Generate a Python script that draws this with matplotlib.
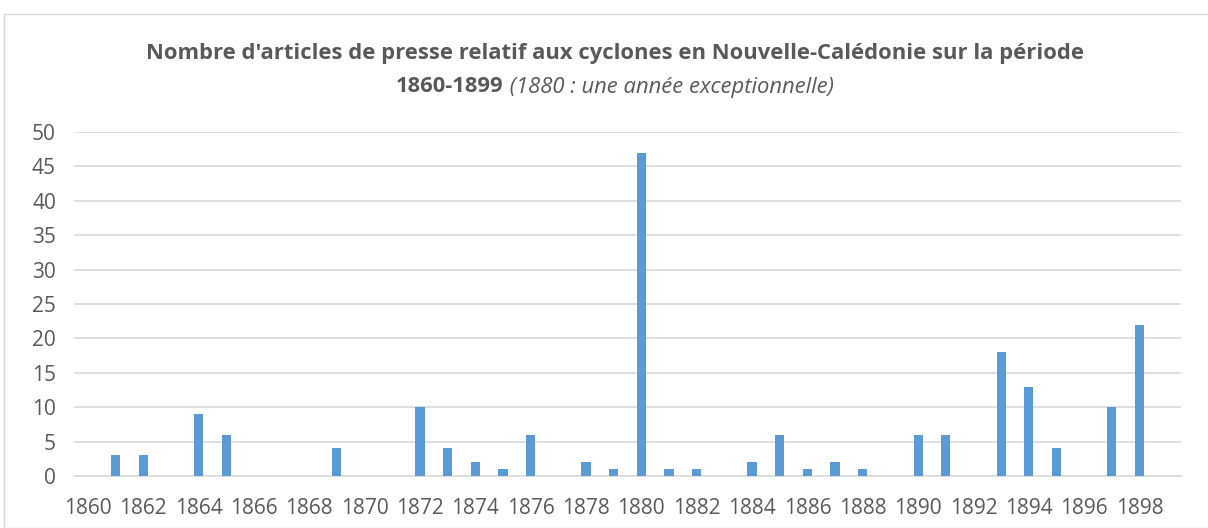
import matplotlib
matplotlib.use("Agg")
import matplotlib.pyplot as plt
from matplotlib.patches import Rectangle

# data
years = list(range(1860, 1900))
counts = [0, 3, 3, 0, 9, 6, 0, 0, 0, 4,
          0, 0, 10, 4, 2, 1, 6, 0, 2, 1,
          47, 1, 1, 0, 2, 6, 1, 2, 1, 0,
          6, 6, 0, 18, 13, 4, 0, 10, 22, 0]
yticks = [0, 5, 10, 15, 20, 25, 30, 35, 40, 45, 50]
title1 = "Nombre d'articles de presse relatif aux cyclones en Nouvelle-Calédonie sur la période"
title2_bold = "1860-1899"
title2_ital = " (1880 : une année exceptionnelle)"

W, H = 1208, 528
GREY = "#595959"
BAR = "#5B9BD5"
GRID = "#D9D9D9"
plt.rcParams["font.family"] = ["Open Sans", "DejaVu Sans"]

fig = plt.figure(figsize=(W / 100, H / 100), dpi=100)
fig.patches.append(Rectangle((4 / W, 0), 1.2, 1 - 14 / H, transform=fig.transFigure,
                             fill=False, edgecolor="#D9D9D9", linewidth=1))

ax = fig.add_axes([74 / W, 52 / H, (1181 - 74) / W, (476 - 132) / H])
x = list(range(len(years)))
ax.bar(x, counts, width=0.33, color=BAR, zorder=3)
ax.set_xlim(-0.5, len(years) - 0.5)
ax.set_ylim(0, 50)
ax.set_yticks(yticks)
ax.set_xticks(x[::2])
ax.set_xticklabels([str(y) for y in years[::2]])
ax.tick_params(axis="both", length=0, labelsize=15, labelcolor=GREY)
ax.tick_params(axis="x", pad=16)
ax.tick_params(axis="y", pad=13)
ax.grid(axis="y", color=GRID, linewidth=1.2, zorder=0)
for s in ["top", "right", "left"]:
    ax.spines[s].set_visible(False)
ax.spines["bottom"].set_color(GRID)
ax.spines["bottom"].set_linewidth(1.2)

# title, first line
fig.text(615 / W, 1 - 53 / H, title1, ha="center", va="center",
         fontsize=15.8, fontweight="bold", color=GREY)

# title, second line: bold part + italic part centred together
t_b = fig.text(0, 1 - 87 / H, title2_bold, ha="left", va="center",
               fontsize=15.8, fontweight="bold", color=GREY)
t_i = fig.text(0, 1 - 87 / H, title2_ital, ha="left", va="center",
               fontsize=15.8, fontstyle="italic", color=GREY)
fig.canvas.draw()
r = fig.canvas.get_renderer()
wb = t_b.get_window_extent(r).width
wi = t_i.get_window_extent(r).width
x0 = 615 - (wb + wi) / 2
t_b.set_x(x0 / W)
t_i.set_x((x0 + wb) / W)

fig.savefig("out.png", dpi=100)
